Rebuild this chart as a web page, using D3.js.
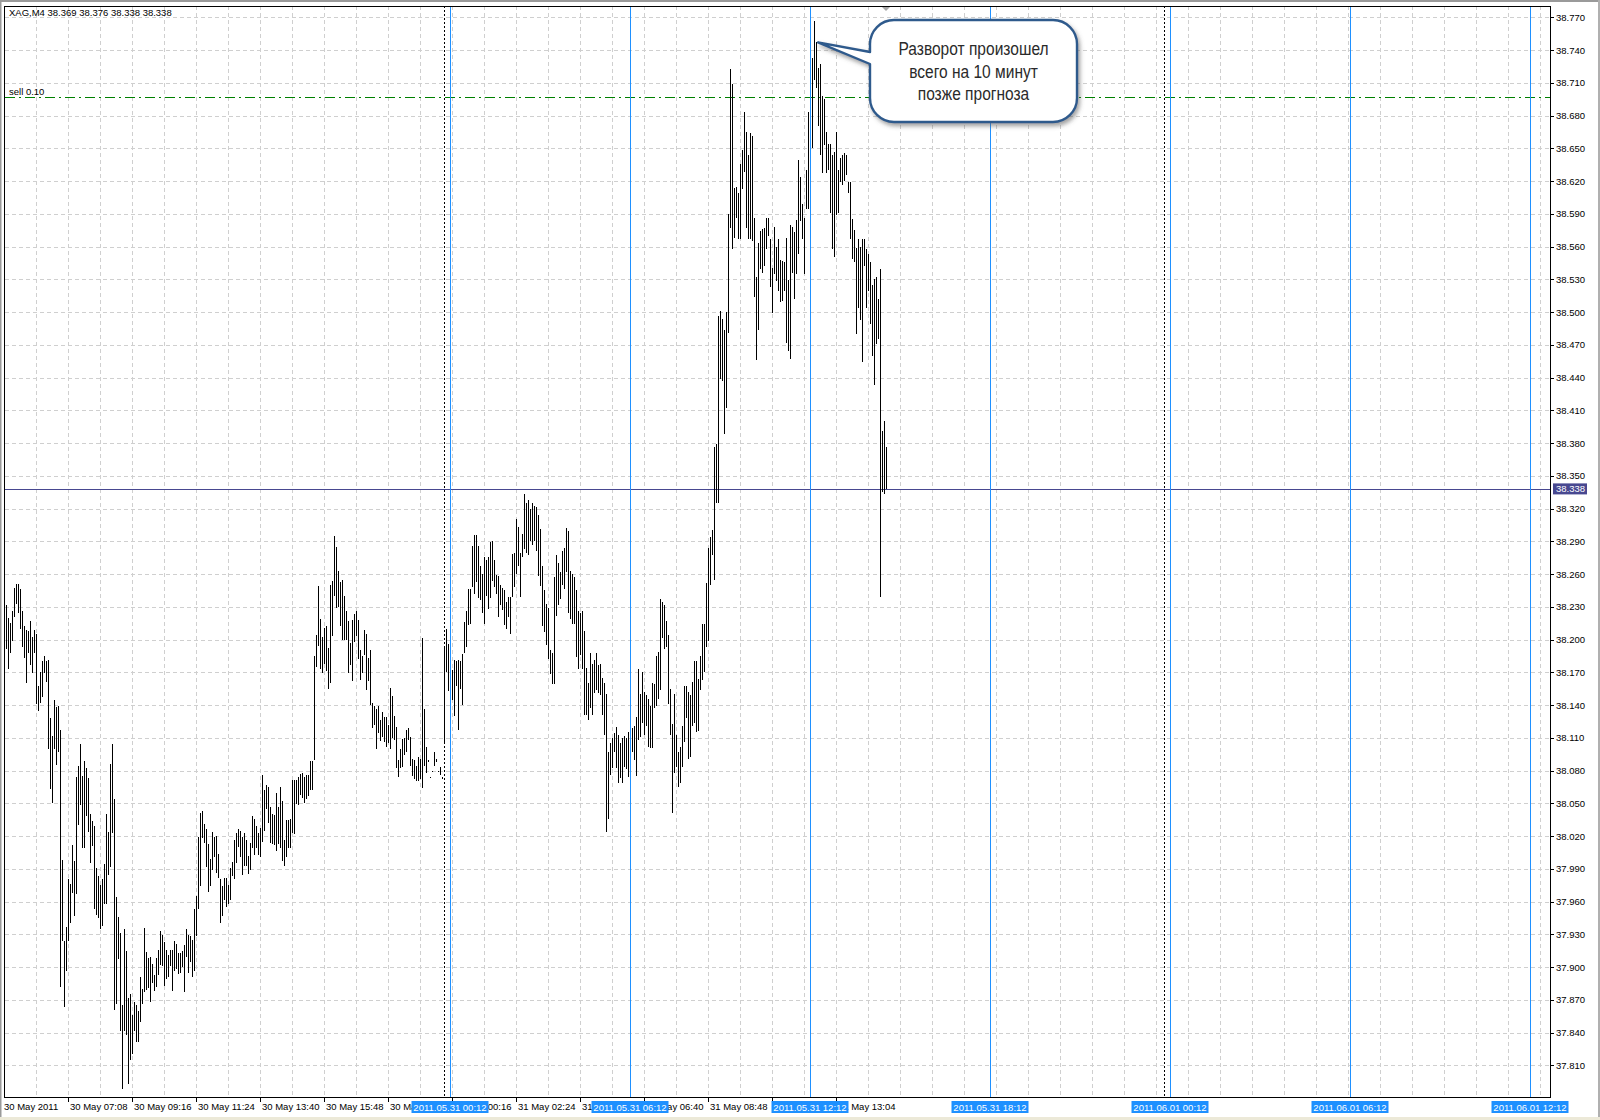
<!DOCTYPE html>
<html><head><meta charset="utf-8">
<script src="https://cdnjs.cloudflare.com/ajax/libs/d3/7.8.5/d3.min.js"></script>
<style>body{margin:0;background:#fff}svg{display:block}</style>
</head><body>
<svg id="c" width="1600" height="1120"></svg>
<script>
// ---------- DATA ----------
const symbolTitle = "XAG,M4  38.369 38.376 38.338 38.338";
const highs = [
38.232,38.220,38.215,38.226,38.247,38.251,38.251,38.246,38.226,38.212,
38.209,38.208,38.217,38.202,38.209,38.205,38.157,38.170,38.180,38.185,
38.180,38.181,38.128,38.112,38.145,38.138,38.139,38.117,37.998,37.924,
37.937,37.981,37.976,38.012,37.997,38.074,38.084,38.104,38.075,38.089,
38.082,38.073,38.040,38.034,38.029,37.991,37.983,37.975,37.981,37.994,
38.040,38.024,38.086,38.104,38.054,37.964,37.946,37.931,37.865,37.935,
37.915,37.872,37.875,37.856,37.868,37.865,37.860,37.891,37.880,37.936,
37.914,37.908,37.909,37.903,37.893,37.908,37.916,37.933,37.929,37.923,
37.916,37.911,37.916,37.916,37.924,37.921,37.913,
37.913,37.915,37.920,37.935,37.929,37.928,37.925,37.953,37.965,38.019,
38.041,38.043,38.031,38.026,38.013,37.999,38.024,38.019,38.020,38.004,
37.981,37.974,37.982,37.982,37.975,37.991,37.996,38.016,38.023,38.026,
38.025,38.019,38.023,38.016,38.002,38.014,38.038,38.036,38.029,38.023,
38.027,38.076,38.062,38.067,38.065,38.047,38.040,38.039,38.059,38.047,
38.065,38.052,38.016,38.035,38.035,38.036,38.071,38.071,38.071,38.074,
38.077,38.078,38.074,38.076,38.076,38.089,38.089,38.185,38.204,38.249,
38.219,38.202,38.211,38.212,38.192,38.250,38.254,38.295,38.285,38.263,
38.253,38.255,38.240,38.226,38.217,38.197,38.218,38.223,38.226,
38.218,38.190,38.185,38.209,38.205,38.183,38.190,38.142,38.139,38.136,
38.139,38.126,38.134,38.129,38.129,38.122,38.156,38.148,38.130,38.120,
38.090,38.100,38.109,38.110,38.117,38.119,38.111,38.091,38.090,38.084,
38.092,38.091,38.201,38.136,38.102,38.090,38.074,38.080,38.097,38.091,
38.080,38.083,38.074,38.194,38.210,38.196,38.198,38.172,38.181,38.180,
38.181,38.180,38.187,38.216,38.226,38.246,38.246,38.286,38.296,38.296,
38.286,38.267,38.260,38.276,38.273,38.276,38.289,38.290,38.273,38.259,
38.258,38.250,38.247,38.245,38.234,38.239,38.239,38.278,38.279,38.310,
38.303,38.279,38.297,38.333,38.325,38.328,38.320,38.325,38.322,
38.321,38.314,38.301,38.267,38.245,38.233,38.229,38.190,38.188,38.257,
38.277,38.270,38.262,38.281,38.284,38.302,38.299,38.263,38.260,38.257,
38.245,38.226,38.224,38.226,38.208,38.174,38.160,38.188,38.178,38.181,
38.188,38.177,38.178,38.165,38.160,38.150,38.097,38.105,38.110,38.114,
38.120,38.113,38.105,38.110,38.112,38.110,38.115,38.118,38.119,38.121,
38.129,38.173,38.150,38.170,38.152,38.149,38.146,38.139,38.160,38.159,
38.185,38.189,38.237,38.234,38.232,38.217,38.204,38.155,38.123,38.150,
38.113,38.097,38.102,38.121,38.157,38.157,38.152,38.149,38.161,38.180,
38.180,38.164,38.185,38.214,38.214,38.252,38.284,38.294,38.300,
38.376,38.379,38.496,38.501,38.494,38.484,38.500,38.590,38.723,38.709,
38.614,38.615,38.609,38.636,38.648,38.683,38.665,38.644,38.664,38.661,
38.586,38.532,38.563,38.574,38.576,38.577,38.586,38.586,38.567,38.540,
38.578,38.560,38.567,38.548,38.547,38.546,38.568,38.529,38.580,38.578,
38.573,38.584,38.639,38.624,38.599,38.586,38.630,38.683,38.719,38.733,
38.767,38.747,38.724,38.727,38.698,38.695,38.665,38.654,38.654,38.644,
38.647,38.665,38.630,38.641,38.644,38.646,38.644,38.619,38.619,38.585,
38.575,38.559,38.567,38.560,38.567,38.567,38.558,38.553,38.546,38.525,
38.530,38.532,38.512,38.539,38.391,38.400,38.376
];
const lows = [
38.191,38.173,38.188,38.199,38.221,38.233,38.224,38.210,38.193,38.183,
38.160,38.188,38.177,38.169,38.188,38.141,38.135,38.142,38.147,38.169,
38.161,38.100,38.063,38.050,38.100,38.085,38.097,37.882,37.924,37.863,
37.896,37.924,37.940,37.968,37.947,37.967,38.030,38.048,38.009,38.009,
38.038,38.024,37.995,38.011,37.953,37.948,37.945,37.935,37.938,37.958,
37.958,37.984,37.992,38.023,37.861,37.866,37.907,37.841,37.788,37.841,
37.838,37.793,37.815,37.820,37.841,37.831,37.831,37.850,37.866,37.877,
37.879,37.881,37.868,37.885,37.878,37.882,37.893,37.902,37.901,37.883,
37.889,37.891,37.901,37.878,37.896,37.898,37.894,
37.895,37.900,37.877,37.909,37.895,37.905,37.891,37.896,37.928,37.953,
37.974,38.018,38.014,37.992,37.969,37.974,37.989,38.001,37.986,37.982,
37.940,37.947,37.961,37.955,37.958,37.961,37.983,37.981,37.995,38.010,
38.001,37.984,37.993,37.993,37.985,37.989,38.009,38.003,38.009,38.003,
38.001,38.015,38.025,38.045,38.032,38.014,38.013,38.012,38.006,38.013,
38.009,37.997,37.993,38.001,38.009,38.009,38.023,38.022,38.049,38.048,
38.058,38.055,38.050,38.054,38.057,38.062,38.062,38.090,38.175,38.194,
38.173,38.169,38.178,38.171,38.155,38.160,38.203,38.240,38.229,38.230,
38.212,38.200,38.200,38.200,38.169,38.177,38.162,38.198,38.203,
38.182,38.163,38.169,38.186,38.154,38.162,38.140,38.119,38.122,38.100,
38.114,38.107,38.111,38.106,38.102,38.105,38.100,38.110,38.108,38.082,
38.074,38.082,38.083,38.094,38.097,38.108,38.084,38.075,38.072,38.070,
38.070,38.072,38.064,38.084,38.078,38.088,38.073,38.079,38.084,38.088,
38.079,38.076,38.072,38.104,38.170,38.153,38.166,38.145,38.130,38.157,
38.117,38.155,38.140,38.188,38.193,38.213,38.214,38.248,38.242,38.253,
38.238,38.236,38.224,38.214,38.240,38.228,38.238,38.254,38.248,38.242,
38.221,38.232,38.227,38.213,38.210,38.221,38.205,38.239,38.248,38.260,
38.267,38.239,38.276,38.283,38.279,38.277,38.290,38.287,38.290,
38.281,38.258,38.249,38.212,38.207,38.195,38.182,38.168,38.159,38.159,
38.222,38.232,38.237,38.250,38.246,38.262,38.224,38.219,38.214,38.214,
38.184,38.173,38.186,38.173,38.131,38.131,38.126,38.137,38.131,38.151,
38.154,38.151,38.149,38.131,38.113,38.024,38.036,38.076,38.082,38.097,
38.082,38.069,38.073,38.069,38.083,38.081,38.074,38.095,38.097,38.090,
38.075,38.108,38.111,38.124,38.113,38.121,38.102,38.101,38.101,38.137,
38.139,38.146,38.154,38.201,38.191,38.193,38.141,38.113,38.041,38.078,
38.083,38.065,38.069,38.083,38.106,38.128,38.091,38.092,38.121,38.124,
38.115,38.116,38.154,38.163,38.170,38.193,38.199,38.250,38.277,
38.255,38.325,38.325,38.439,38.437,38.388,38.412,38.481,38.577,38.558,
38.568,38.586,38.567,38.567,38.613,38.628,38.577,38.567,38.567,38.565,
38.514,38.456,38.484,38.539,38.536,38.542,38.558,38.570,38.523,38.499,
38.535,38.528,38.519,38.509,38.510,38.519,38.472,38.464,38.457,38.536,
38.512,38.535,38.553,38.583,38.567,38.535,38.594,38.594,38.644,38.650,
38.713,38.705,38.670,38.644,38.627,38.653,38.627,38.630,38.591,38.558,
38.550,38.589,38.591,38.619,38.616,38.620,38.626,38.609,38.567,38.549,
38.546,38.480,38.504,38.493,38.454,38.542,38.504,38.519,38.489,38.460,
38.433,38.471,38.475,38.239,38.335,38.333,38.338
];
const priceTicks = [38.770,38.740,38.710,38.680,38.650,38.620,38.590,38.560,38.530,38.500,
  38.470,38.440,38.410,38.380,38.350,38.320,38.290,38.260,38.230,38.200,38.170,38.140,
  38.110,38.080,38.050,38.020,37.990,37.960,37.930,37.900,37.870,37.840,37.810];
const timeTickIndex = [0,31,63,95,127,159,191,223,255,287,319,351,383,415];
const timeTickLabels = ["30 May 2011","30 May 07:08","30 May 09:16","30 May 11:24","30 May 13:40",
  "30 May 15:48","30 May 17:56","31 May 00:16","31 May 02:24","31 May 04:32","31 May 06:40",
  "31 May 08:48","31 May 10:56","31 May 13:04"];
const markerIndex = [222,312,402,492,582,672,762];
const markerLabels = ["2011.05.31 00:12","2011.05.31 06:12","2011.05.31 12:12","2011.05.31 18:12",
  "2011.06.01 00:12","2011.06.01 06:12","2011.06.01 12:12"];
const separatorIndex = [219,579];
const bidPrice = 38.338;
const sellPrice = 38.697;
const sellLabel = "sell 0.10";
const calloutLines = ["Разворот произошел","всего на 10 минут","позже прогноза"];
const calloutPeakIndex = 404;
const calloutPeakPrice = 38.747;

// ---------- SCALES ----------
const L = 5, T = 6, R = 1550, B = 1097;
const x = d3.scaleLinear().domain([0, 772]).range([6, 1550]);
const y = d3.scaleLinear().domain([37.810, 38.770]).range([1065.3, 17.3]);
const px = v => Math.round(v) + 0.5;
const FONT = "'Liberation Sans', Arial, sans-serif";

const svg = d3.select("#c");
const defs = svg.append("defs");
defs.append("clipPath").attr("id","plot").append("rect")
  .attr("x",L).attr("y",T).attr("width",R-L).attr("height",B-T);
const f = defs.append("filter").attr("id","shadow").attr("x","-20%").attr("y","-20%").attr("width","150%").attr("height","160%");
f.append("feDropShadow").attr("dx",2).attr("dy",3).attr("stdDeviation",2.2)
  .attr("flood-color","#555").attr("flood-opacity",0.55);

svg.append("rect").attr("width",1600).attr("height",1120).attr("fill","#fff");
// window edges
svg.append("rect").attr("x",0).attr("y",0).attr("width",1600).attr("height",2).attr("fill","#9a9a9a");
svg.append("rect").attr("x",0).attr("y",0).attr("width",1.5).attr("height",1120).attr("fill","#9a9a9a");
svg.append("rect").attr("x",1598).attr("y",0).attr("width",2).attr("height",1120).attr("fill","#b0b0b0");
svg.append("rect").attr("x",0).attr("y",1117).attr("width",1600).attr("height",3).attr("fill","#ece9d8");

const g = svg.append("g").attr("clip-path","url(#plot)").attr("shape-rendering","crispEdges");

// grid
const vgrid = d3.range(15, 772, 16);
g.selectAll("line.vg").data(vgrid).join("line")
  .attr("x1",d=>px(x(d))).attr("x2",d=>px(x(d))).attr("y1",T).attr("y2",B)
  .attr("stroke","#cfcfcf").attr("stroke-dasharray","4,3");
g.selectAll("line.hg").data(priceTicks).join("line")
  .attr("x1",L).attr("x2",R).attr("y1",d=>px(y(d))).attr("y2",d=>px(y(d)))
  .attr("stroke","#cfcfcf").attr("stroke-dasharray","4,3");

// sell line
g.append("line").attr("x1",L).attr("x2",R).attr("y1",px(y(sellPrice))).attr("y2",px(y(sellPrice)))
  .attr("stroke","#008000").attr("stroke-dasharray","10,4,2,4");

// bid line
g.append("line").attr("x1",L).attr("x2",R).attr("y1",px(y(bidPrice))).attr("y2",px(y(bidPrice)))
  .attr("stroke","#484890");

// bars
g.selectAll("line.bar").data(highs.map((h,i)=>({i,h,l:lows[i]}))).join("line")
  .attr("x1",d=>px(x(d.i))).attr("x2",d=>px(x(d.i)))
  .attr("y1",d=>Math.round(y(d.h)))
  .attr("y2",d=>Math.max(Math.round(y(d.l)), Math.round(y(d.h))+1))
  .attr("stroke","#000").attr("stroke-width",1);

// separators
g.selectAll("line.sep").data(separatorIndex).join("line")
  .attr("x1",d=>px(x(d))).attr("x2",d=>px(x(d))).attr("y1",T).attr("y2",B)
  .attr("stroke","#000").attr("stroke-dasharray","2,2");

// vertical markers
g.selectAll("line.mk").data(markerIndex).join("line")
  .attr("x1",d=>px(x(d))).attr("x2",d=>px(x(d))).attr("y1",T).attr("y2",B)
  .attr("stroke","#1e90ff");

// frame
svg.append("rect").attr("x",L-0.5).attr("y",T+0.5).attr("width",R-L+1).attr("height",B-T)
  .attr("fill","none").attr("stroke","#000").attr("shape-rendering","crispEdges");

// header + sell label
svg.append("text").attr("x",9).attr("y",16).attr("font-family",FONT).attr("font-size","9.5px").text(symbolTitle);
svg.append("text").attr("x",9).attr("y",px(y(sellPrice))-3).attr("font-family",FONT).attr("font-size","9.5px").text(sellLabel);

// shift marker
svg.append("path").attr("d",`M${x(highs.length-1)-4},${T+1}L${x(highs.length-1)+4},${T+1}L${x(highs.length-1)},${T+5}Z`).attr("fill","#a8a8a8");

// price axis
const ya = svg.append("g");
ya.selectAll("line").data(priceTicks).join("line")
  .attr("x1",R).attr("x2",R+4).attr("y1",d=>px(y(d))).attr("y2",d=>px(y(d)))
  .attr("stroke","#000").attr("shape-rendering","crispEdges");
ya.selectAll("text").data(priceTicks).join("text")
  .attr("x",R+6).attr("y",d=>y(d)+3.5).attr("font-family",FONT).attr("font-size","9.5px")
  .text(d=>d.toFixed(3));
// bid label
ya.append("rect").attr("x",R+3).attr("y",y(bidPrice)-5.5).attr("width",34).attr("height",11).attr("fill","#484890");
ya.append("text").attr("x",R+6).attr("y",y(bidPrice)+3.5).attr("font-family",FONT).attr("font-size","9.5px")
  .attr("fill","#fff").text(bidPrice.toFixed(3));

// time axis
const xa = svg.append("g");
xa.selectAll("line").data(timeTickIndex.slice(1)).join("line")
  .attr("x1",d=>px(x(d))).attr("x2",d=>px(x(d))).attr("y1",B).attr("y2",B+5)
  .attr("stroke","#000").attr("shape-rendering","crispEdges");
xa.selectAll("text").data(timeTickIndex).join("text")
  .attr("x",(d,i)=> i===0 ? 4 : x(d)+2).attr("y",1110).attr("font-family",FONT).attr("font-size","9.5px")
  .text((d,i)=>timeTickLabels[i]);
// marker labels
const ml = svg.append("g");
ml.selectAll("rect").data(markerIndex).join("rect")
  .attr("x",d=>x(d)-38.5).attr("y",1101).attr("width",77).attr("height",12).attr("fill","#1e90ff");
ml.selectAll("text").data(markerIndex).join("text")
  .attr("x",d=>x(d)).attr("y",1110.5).attr("text-anchor","middle").attr("fill","#fff")
  .attr("font-family",FONT).attr("font-size","9.5px").text((d,i)=>markerLabels[i]);

// callout
const bx0 = 870, by0 = 20, bx1 = 1077, by1 = 122, r = 24;
const tipX = x(calloutPeakIndex) + 4, tipY = y(calloutPeakPrice);
const p = d3.path();
p.moveTo(bx0 + r, by0);
p.lineTo(bx1 - r, by0);
p.arcTo(bx1, by0, bx1, by0 + r, r);
p.lineTo(bx1, by1 - r);
p.arcTo(bx1, by1, bx1 - r, by1, r);
p.lineTo(bx0 + r, by1);
p.arcTo(bx0, by1, bx0, by1 - r, r);
p.lineTo(bx0, 64);
p.lineTo(tipX, tipY);
p.lineTo(bx0, 52);
p.lineTo(bx0, by0 + r);
p.arcTo(bx0, by0, bx0 + r, by0, r);
p.closePath();
svg.append("path").attr("d", p.toString()).attr("fill","#fff").attr("stroke","#2f5a8c")
  .attr("stroke-width",2.4).attr("stroke-linejoin","round").attr("filter","url(#shadow)");
svg.append("g").selectAll("text").data(calloutLines).join("text")
  .attr("transform",(d,i)=>`translate(${(bx0+bx1)/2},${55+i*22.5}) scale(0.84,1)`)
  .attr("text-anchor","middle")
  .attr("font-family",FONT)
  .attr("font-size","18.5px").attr("fill","#2a2a2a").text(d=>d);
</script>
</body></html>
